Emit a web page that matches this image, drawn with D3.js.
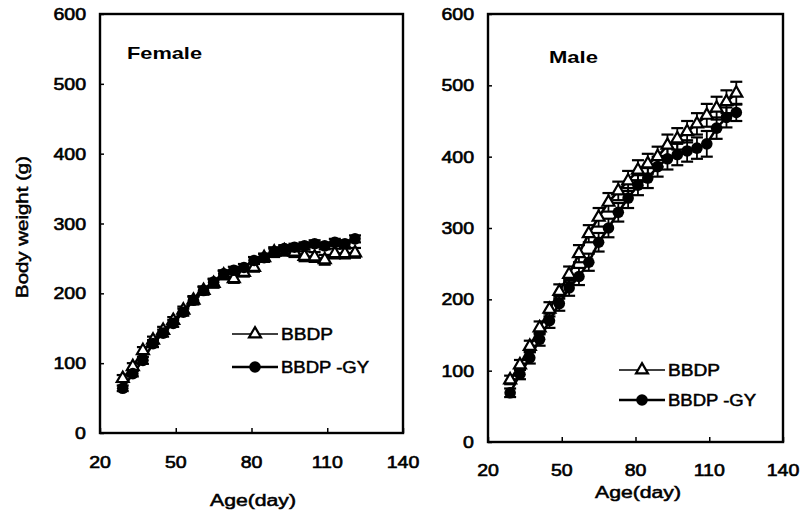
<!DOCTYPE html>
<html>
<head>
<meta charset="utf-8">
<script src="https://cdn.jsdelivr.net/npm/d3@7"></script>
<style>
  html, body { margin: 0; padding: 0; background: #fff; }
  svg { display: block; font-family: "Liberation Sans", Arial, sans-serif; }
</style>
</head>
<body>
<svg id="chart" width="800" height="514"></svg>
<script>
// ---------- data ----------
const ages = [29, 33, 37, 41, 45, 49, 53, 57, 61, 65, 69, 73, 77, 81, 85, 89, 93, 97, 101, 105, 109, 113, 117, 121];

const femaleBBDP   = [78, 95, 118, 133, 147, 161, 176, 190, 204, 214, 226, 221, 230, 237, 251, 259, 261, 259, 253, 252, 248, 257, 257, 258];
const femaleBBDPsd = [5, 5, 5, 5, 5, 5, 5, 6, 6, 6, 6, 6, 6, 6, 6, 7, 7, 7, 7, 7, 7, 7, 7, 7];
const femaleGY     = [64, 85, 104, 128, 143, 157, 173, 190, 204, 216, 228, 233, 237, 247, 251, 259, 264, 266, 268, 271, 268, 273, 271, 278];
const femaleGYsd   = [4, 4, 5, 5, 5, 5, 5, 5, 5, 5, 5, 5, 5, 5, 5, 5, 5, 5, 5, 5, 5, 5, 5, 5];

const maleBBDP   = [87, 108, 134, 160, 186, 211, 235, 264, 292, 315, 336, 352, 366, 381, 390, 400, 416, 425, 435, 446, 458, 468, 477, 489];
const maleBBDPsd = [6, 7, 8, 9, 10, 10, 11, 12, 12, 13, 13, 13, 14, 14, 14, 14, 15, 15, 15, 15, 16, 16, 16, 16];
const maleGY     = [69, 95, 118, 144, 170, 194, 216, 232, 252, 280, 300, 322, 342, 360, 370, 386, 397, 403, 408, 412, 418, 440, 455, 462];
const maleGYsd   = [6, 7, 8, 9, 10, 10, 11, 12, 12, 13, 13, 13, 14, 14, 14, 14, 15, 15, 15, 15, 18, 15, 14, 12];

const xTicks = [20, 50, 80, 110, 140];
const yTicks = [0, 100, 200, 300, 400, 500, 600];
const seriesNames = ["BBDP", "BBDP -GY"];

// ---------- drawing ----------
const svg = d3.select("#chart");

// widen glyphs horizontally (the original uses a wide sans face)
function stretch(sel, factor) {
  sel.each(function () {
    const w = this.getComputedTextLength();
    d3.select(this).attr("textLength", w * factor).attr("lengthAdjust", "spacingAndGlyphs");
  });
  return sel;
}

function panel(cfg) {
  const x = d3.scaleLinear().domain([20, 140]).range([cfg.left, cfg.right]);
  const y = d3.scaleLinear().domain([0, 600]).range([cfg.bottom, cfg.top]);
  const g = svg.append("g");

  // frame
  g.append("rect")
    .attr("x", cfg.left).attr("y", cfg.top)
    .attr("width", cfg.right - cfg.left).attr("height", cfg.bottom - cfg.top)
    .attr("fill", "none").attr("stroke", "#000").attr("stroke-width", 2.4);

  // axes (inward ticks)
  const xa = g.append("g").attr("transform", `translate(0,${cfg.bottom})`)
    .call(d3.axisBottom(x).tickValues(xTicks).tickSize(-5).tickPadding(0).tickFormat(""));
  xa.select(".domain").remove();
  xa.selectAll("line").attr("stroke", "#000").attr("stroke-width", 1.5);
  const ya = g.append("g").attr("transform", `translate(${cfg.left},0)`)
    .call(d3.axisLeft(y).tickValues(yTicks).tickSize(-4).tickFormat(""));
  ya.select(".domain").remove();
  ya.selectAll("line").attr("stroke", "#000").attr("stroke-width", 1.5);

  // tick labels
  stretch(g.selectAll(".xl").data(xTicks).enter().append("text")
    .attr("x", d => x(d)).attr("y", cfg.xLabelY)
    .attr("text-anchor", "middle").attr("font-size", 16)
    .attr("stroke", "#000").attr("stroke-width", 0.6)
    .text(d => d), 1.22);
  stretch(g.selectAll(".yl").data(yTicks).enter().append("text")
    .attr("x", cfg.yLabelX).attr("y", d => y(d) + 6)
    .attr("text-anchor", "end").attr("font-size", 16)
    .attr("stroke", "#000").attr("stroke-width", 0.6)
    .text(d => d), 1.22);

  // axis title
  g.append("text").attr("x", cfg.titleX).attr("y", cfg.titleY)
    .attr("text-anchor", "middle").attr("font-size", 16)
    .attr("stroke", "#000").attr("stroke-width", 0.5)
    .attr("textLength", 86).attr("lengthAdjust", "spacingAndGlyphs")
    .text("Age(day)");

  // panel label
  g.append("text").attr("x", cfg.labelX).attr("y", cfg.labelY)
    .attr("font-size", 17).attr("font-weight", "bold")
    .attr("textLength", cfg.labelLen).attr("lengthAdjust", "spacingAndGlyphs")
    .text(cfg.label);

  const line = d3.line().x((d, i) => x(ages[i])).y(d => y(d));
  const series = [
    { vals: cfg.bbdp, sd: cfg.bbdpSd, marker: "tri" },
    { vals: cfg.gy, sd: cfg.gySd, marker: "circ" }
  ];

  series.forEach(s => {
    const eb = g.append("g");
    s.vals.forEach((v, i) => {
      const cx = x(ages[i]);
      eb.append("line").attr("x1", cx).attr("x2", cx)
        .attr("y1", y(v - s.sd[i])).attr("y2", y(v + s.sd[i]))
        .attr("stroke", "#000").attr("stroke-width", 1.8);
      [v - s.sd[i], v + s.sd[i]].forEach(e => {
        eb.append("line").attr("x1", cx - 6).attr("x2", cx + 6)
          .attr("y1", y(e)).attr("y2", y(e))
          .attr("stroke", "#000").attr("stroke-width", 2.2);
      });
    });
  });

  series.forEach(s => {
    g.append("path").datum(s.vals).attr("d", line)
      .attr("fill", "none").attr("stroke", "#000").attr("stroke-width", 2.6);
  });

  series.forEach(s => {
    s.vals.forEach((v, i) => drawMarker(g, s.marker, x(ages[i]), y(v)));
  });

  // legend
  seriesNames.forEach((name, k) => {
    const ly = cfg.legY[k];
    g.append("line").attr("x1", cfg.legX1).attr("x2", cfg.legX2)
      .attr("y1", ly).attr("y2", ly)
      .attr("stroke", "#000").attr("stroke-width", k === 0 ? 1.6 : 2.4);
    drawMarker(g, k === 0 ? "tri" : "circ", (cfg.legX1 + cfg.legX2) / 2, ly);
    g.append("text").attr("x", cfg.legX2 + 3).attr("y", ly + 6)
      .attr("font-size", 16).attr("stroke", "#000").attr("stroke-width", 0.5)
      .attr("textLength", k === 0 ? 52 : 88).attr("lengthAdjust", "spacingAndGlyphs")
      .text(name);
  });
}

function drawMarker(g, type, cx, cy) {
  if (type === "tri") {
    const sym = d3.symbol().type(d3.symbolTriangle).size(62);
    g.append("path").attr("d", sym())
      .attr("transform", `translate(${cx},${cy})`)
      .attr("fill", "#fff").attr("stroke", "#000").attr("stroke-width", 2.2);
  } else {
    g.append("circle").attr("cx", cx).attr("cy", cy).attr("r", 5.8)
      .attr("fill", "#000");
  }
}

panel({
  left: 100, right: 403, top: 14, bottom: 433,
  xLabelY: 468, yLabelX: 86, titleX: 253, titleY: 506,
  label: "Female", labelX: 127, labelY: 59, labelLen: 75,
  bbdp: femaleBBDP, bbdpSd: femaleBBDPsd, gy: femaleGY, gySd: femaleGYsd,
  legX1: 232, legX2: 278, legY: [334, 367]
});

panel({
  left: 488, right: 783, top: 14, bottom: 442,
  xLabelY: 476, yLabelX: 474, titleX: 638, titleY: 498,
  label: "Male", labelX: 549, labelY: 63, labelLen: 49,
  bbdp: maleBBDP, bbdpSd: maleBBDPsd, gy: maleGY, gySd: maleGYsd,
  legX1: 619, legX2: 665, legY: [370, 400]
});

// shared y-axis title
svg.append("text")
  .attr("transform", "translate(28,227) rotate(-90)")
  .attr("text-anchor", "middle").attr("font-size", 16)
  .attr("stroke", "#000").attr("stroke-width", 0.5)
  .attr("textLength", 142).attr("lengthAdjust", "spacingAndGlyphs")
  .text("Body weight (g)");
</script>
</body>
</html>
